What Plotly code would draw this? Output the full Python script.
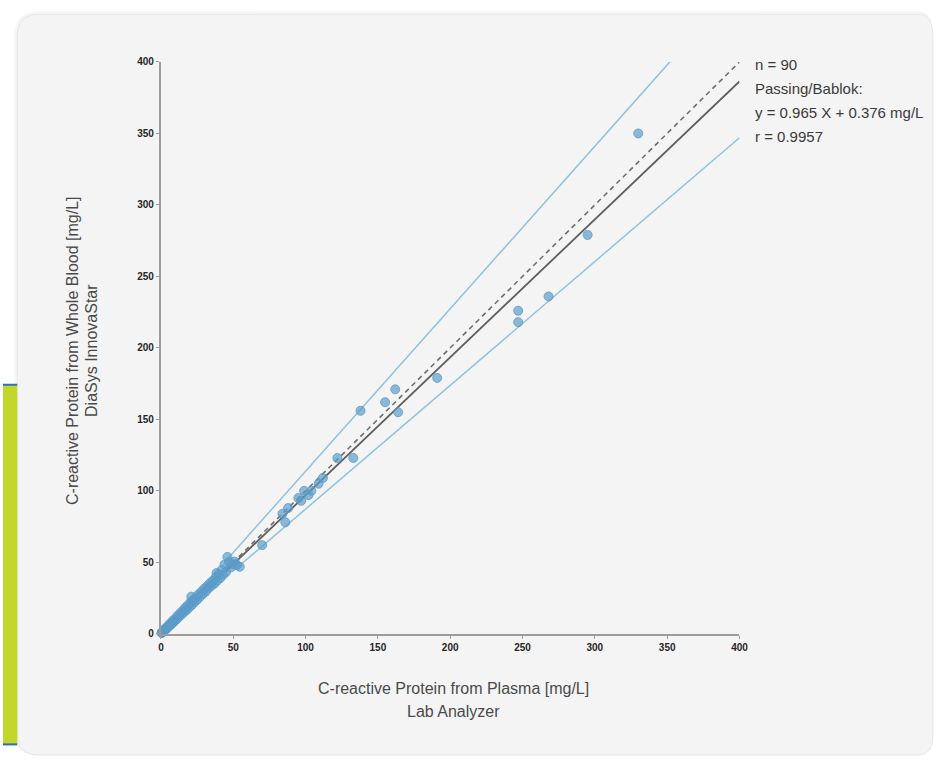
import plotly.graph_objects as go

W, H = 942, 761

# ---------------- data ----------------
plasma_high = [330, 295, 268, 247, 247, 191, 164, 162, 155, 138, 133, 122,
               112, 109, 104, 102, 99, 97, 95, 88, 86, 84, 70]
blood_high = [350, 279, 236, 226, 218, 179, 155, 171, 162, 156, 123, 123,
              109, 105, 100, 97, 100, 93, 95, 88, 78, 84, 62]

plasma_low = [0.4, 0.7, 0.9, 1.1, 1.3, 1.6, 1.9, 2.2, 2.5, 2.9,
              3.3, 3.7, 4.1, 4.6, 5.2, 5.8, 6.5, 7.2, 8.0, 8.8,
              9.6, 10.5, 11.4, 12.3, 13.2, 14.1, 15.0, 15.9, 16.8, 17.7,
              18.6, 19.5, 20.4, 21.3, 22.2, 23.1, 24.0, 25, 26, 27,
              28, 29, 30, 31, 32, 33, 34, 35, 36, 37,
              38, 39, 40, 41, 42, 43, 44, 45, 46, 47,
              48, 49.5, 51, 52.5, 54.5, 21.0, 38.5]
blood_low = [0.6, 0.9, 1.4, 0.9, 1.6, 1.5, 2.3, 2.0, 3.1, 2.7,
             3.9, 3.4, 4.6, 4.3, 5.9, 5.4, 7.2, 6.6, 8.9, 8.1,
             10.4, 9.8, 12.5, 11.6, 14.3, 13.2, 16.1, 15.0, 18.2, 16.6,
             19.9, 18.4, 22.0, 20.1, 23.5, 21.9, 25.3, 23.8, 27.6, 25.9,
             29.5, 27.8, 31.6, 29.5, 33.4, 31.9, 35.5, 33.6, 37.2, 35.1,
             39.6, 37.2, 41.8, 38.9, 44.6, 41.2, 48.5, 43.1, 53.8, 50.2,
             46.3, 48.8, 50.5, 48.1, 46.9, 26.0, 42.5]

plasma = plasma_low + plasma_high
blood = blood_low + blood_high

# lines: identity, Passing/Bablok fit, upper and lower band
identity_x = [45, 400]
identity_y = [45, 400]
fit_slope, fit_intercept = 0.965, 0.376
fit_x = [45, 400]
upper_slope, upper_intercept = 1.137, 0.0
upper_x = [45, 352]
lower_slope, lower_intercept = 0.866, 0.6
lower_x = [50, 400]

tick_vals = [0, 50, 100, 150, 200, 250, 300, 350, 400]
tick_text = ["0", "50", "100", "150", "200", "250", "300", "350", "400"]

stats_text = ["n = 90", "Passing/Bablok:", "y = 0.965 X + 0.376 mg/L", "r = 0.9957"]

x_title_lines = ["C-reactive Protein from Plasma [mg/L]", "Lab Analyzer"]
y_title_lines = ["C-reactive Protein from Whole Blood [mg/L]", "DiaSys InnovaStar"]

# ---------------- helpers ----------------
# small compensation for the capture scaling observed in the renderer
SX, BX = 0.9897, 1.7
SY, BY = 0.988, 3.8


def px(x):
    return min(max(((x - BX) / SX) / W, 0), 1)


def py(y):
    return min(max(1 - ((y - BY) / SY) / H, 0), 1)


# target plot area in pixels
L, R, T, B = 160, 740, 60, 634
FONT = "Liberation Sans, Arial"

fig = go.Figure()

band_color = "#8fc1de"
fig.add_trace(go.Scatter(x=upper_x, y=[upper_slope * v + upper_intercept for v in upper_x],
                         mode="lines", line=dict(color=band_color, width=1.5), hoverinfo="skip"))
fig.add_trace(go.Scatter(x=lower_x, y=[lower_slope * v + lower_intercept for v in lower_x],
                         mode="lines", line=dict(color=band_color, width=1.5), hoverinfo="skip"))
fig.add_trace(go.Scatter(x=identity_x, y=identity_y, mode="lines",
                         line=dict(color="#6e6e6e", width=1.6, dash="5px,4px"), hoverinfo="skip"))
fig.add_trace(go.Scatter(x=fit_x, y=[fit_slope * v + fit_intercept for v in fit_x], mode="lines",
                         line=dict(color="#5e5e5e", width=1.8), hoverinfo="skip"))
fig.add_trace(go.Scatter(x=plasma, y=blood, mode="markers", cliponaxis=False,
                         marker=dict(size=9, color="rgba(90,155,200,0.68)",
                                     line=dict(color="rgba(90,155,200,0.8)", width=1))))


def rounded(x0, y0, x1, y1, r):
    return (f"M {px(x0 + r)},{py(y0)} L {px(x1 - r)},{py(y0)} "
            f"Q {px(x1)},{py(y0)} {px(x1)},{py(y0 + r)} "
            f"L {px(x1)},{py(y1 - r)} Q {px(x1)},{py(y1)} {px(x1 - r)},{py(y1)} "
            f"L {px(x0 + r)},{py(y1)} Q {px(x0)},{py(y1)} {px(x0)},{py(y1 - r)} "
            f"L {px(x0)},{py(y0 + r)} Q {px(x0)},{py(y0)} {px(x0 + r)},{py(y0)} Z")


shapes = [
    dict(type="path", xref="paper", yref="paper", path=rounded(13, 9, 945, 760, 25), layer="below",
         fillcolor="rgba(0,0,0,0.035)", line=dict(width=0)),
    dict(type="path", xref="paper", yref="paper", path=rounded(16, 12, 942, 757, 22), layer="below",
         fillcolor="#f4f4f4", line=dict(color="#e6e6e6", width=1)),
    dict(type="rect", xref="paper", yref="paper", x0=0, x1=px(16), y0=py(746), y1=py(384),
         fillcolor="#c3d62c", line=dict(width=0), layer="below"),
    dict(type="line", xref="paper", yref="paper", x0=0, x1=px(16), y0=py(384), y1=py(384),
         line=dict(color="#2f6fc0", width=2), layer="below"),
    dict(type="line", xref="paper", yref="paper", x0=0, x1=px(16), y0=py(745), y1=py(745),
         line=dict(color="#2f6fc0", width=2), layer="below"),
]

annotations = []
for i, t in enumerate(stats_text):
    annotations.append(dict(xref="paper", yref="paper", x=px(754), y=py(63 + 24 * i),
                            text=t, showarrow=False, xanchor="left", yanchor="middle",
                            font=dict(family=FONT, size=15, color="#3a3a3a")))
for t, yy in zip(x_title_lines, [689, 712]):
    annotations.append(dict(xref="paper", yref="paper", x=px(453), y=py(yy), text=t,
                            showarrow=False, xanchor="center", yanchor="middle",
                            font=dict(family=FONT, size=16, color="#4a4a4a")))
for t, xx in zip(y_title_lines, [72, 91]):
    annotations.append(dict(xref="paper", yref="paper", x=px(xx), y=py(350), text=t,
                            showarrow=False, xanchor="center", yanchor="middle", textangle=-90,
                            font=dict(family=FONT, size=16, color="#4a4a4a")))

axis_common = dict(range=[0, 400], tickvals=tick_vals, ticktext=tick_text,
                   showgrid=False, zeroline=False, showline=True,
                   linecolor="#9c9c9c", linewidth=2, ticks="outside", ticklen=3,
                   tickcolor="#9c9c9c", tickwidth=1,
                   tickfont=dict(family=FONT, size=10, color="#262626", weight="bold"))

fig.update_layout(
    width=W, height=H, autosize=False,
    margin=dict(l=0, r=0, t=0, b=0, pad=0),
    paper_bgcolor="#ffffff", plot_bgcolor="rgba(0,0,0,0)",
    showlegend=False,
    xaxis=dict(domain=[px(L), px(R)], **axis_common),
    yaxis=dict(domain=[py(B), py(T)], **axis_common),
    shapes=shapes, annotations=annotations,
)

fig.write_html("out.html", config={"displayModeBar": False},
               post_script="document.body.style.margin='0';document.body.style.overflow='hidden';")
